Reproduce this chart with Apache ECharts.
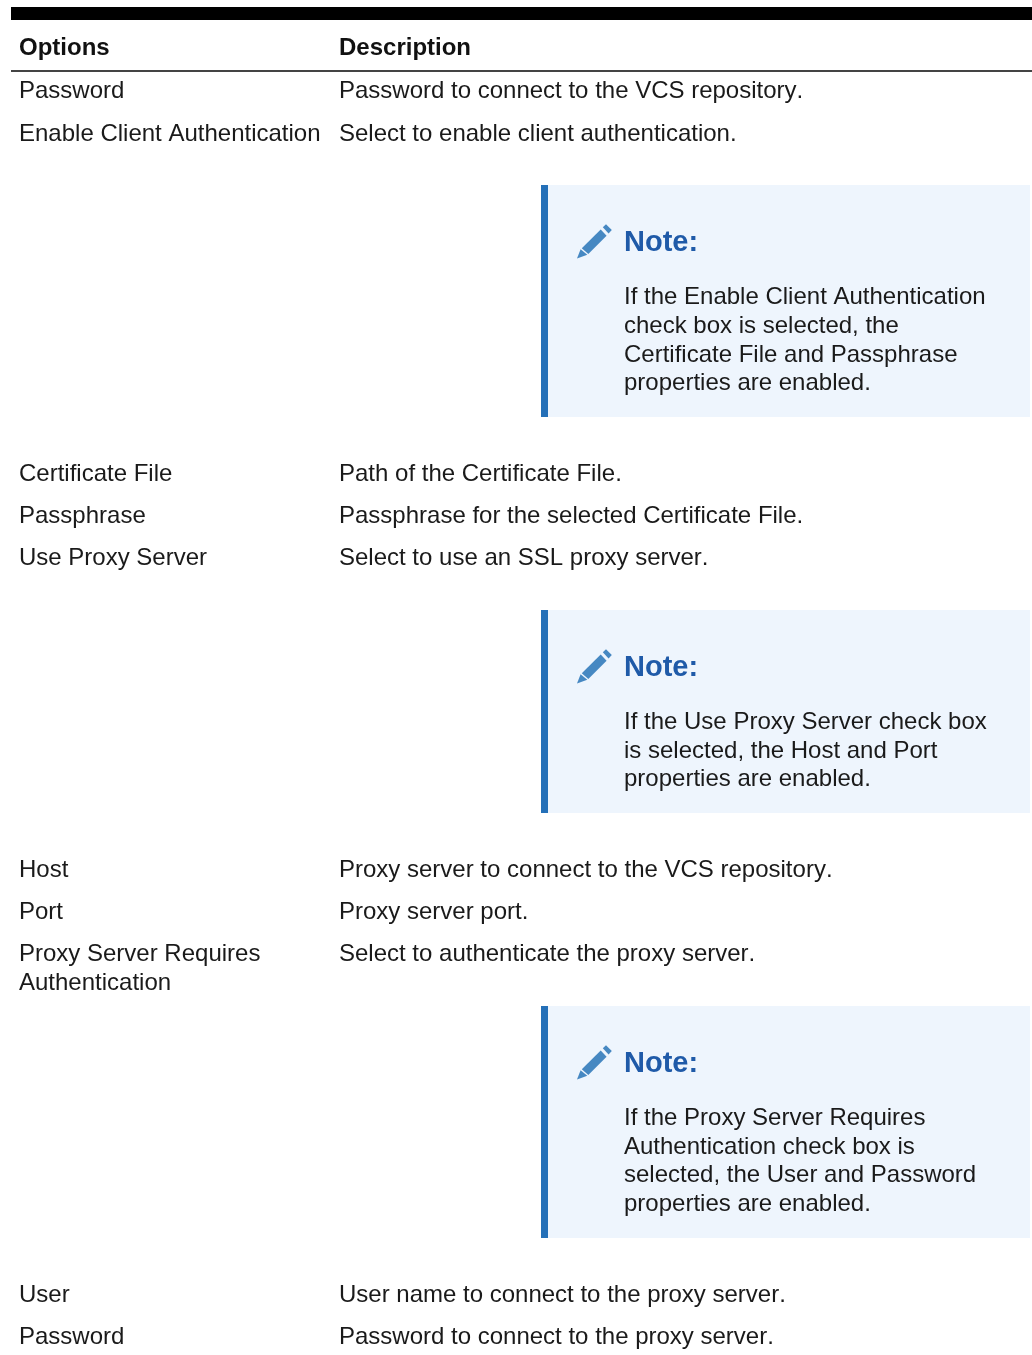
<!DOCTYPE html>
<html><head><meta charset="utf-8">
<style>html,body{margin:0;padding:0;background:#fff}#c{width:1032px;height:1355px}</style>
<script src="https://cdn.jsdelivr.net/npm/echarts@6/dist/echarts.min.js"></script>
</head><body><div id="c"></div>
<script>
const headers = ['Options', 'Description'];
const optionNames = ['Password','Enable Client Authentication','Certificate File','Passphrase','Use Proxy Server','Host','Port','Proxy Server Requires\nAuthentication','User','Password'];
const descriptions = ['Password to connect to the VCS repository.','Select to enable client authentication.','Path of the Certificate File.','Passphrase for the selected Certificate File.','Select to use an SSL proxy server.','Proxy server to connect to the VCS repository.','Proxy server port.','Select to authenticate the proxy server.','User name to connect to the proxy server.','Password to connect to the proxy server.'];
const noteTitle = 'Note:';
const noteTexts = [
 ['If the Enable Client Authentication','check box is selected, the','Certificate File and Passphrase','properties are enabled.'],
 ['If the Use Proxy Server check box','is selected, the Host and Port','properties are enabled.'],
 ['If the Proxy Server Requires','Authentication check box is','selected, the User and Password','properties are enabled.']
];
// layout, kept apart from the content
const rowY = [91,134,474,516,558,870,912,954,1295,1337];
const noteBoxes = [[185,232],[610,203],[1006,232]];
const noteLineOffsets = [[0,29,58,86],[0,29,57],[0,29,57,86]];
const FONT = '"Liberation Sans", Arial, sans-serif';
// the reference text is set without pair kerning
const nativeFill = CanvasRenderingContext2D.prototype.fillText;
CanvasRenderingContext2D.prototype.fillText = function(){ this.fontKerning='none'; return nativeFill.apply(this,arguments); };
const els = [];
const rect = (x,y,w,h,fill)=>els.push({type:'rect',silent:true,shape:{x,y,width:w,height:h},style:{fill}});
const text = (x,y,t,o={})=>els.push({type:'text',silent:true,x,y,style:Object.assign({text:t,fill:'#1a1a1a',font:'24px '+FONT,textAlign:'left',verticalAlign:'middle',lineHeight:29},o)});
rect(11,7,1021,13,'#000');
rect(11,70,1021,2,'#444');
text(19,48,headers[0],{font:'bold 24px '+FONT,fill:'#111'});
text(339,48,headers[1],{font:'bold 24px '+FONT,fill:'#111'});
optionNames.forEach((n,i)=>{
  n.split('\n').forEach((l,j)=>text(19,rowY[i]+j*29,l));
  text(339,rowY[i],descriptions[i]);
});
noteBoxes.forEach(([top,h],i)=>{
  rect(541,top,489,h,'#eef5fd');
  rect(541,top,7,h,'#2470b8');
  const ox=577, oy=top+40;
  const P=(pts)=>els.push({type:'polygon',silent:true,shape:{points:pts.map(p=>[ox+p[0],oy+p[1]])},style:{fill:'#4688c2'}});
  P([[4.8,23.3],[23.7,4.4],[29.6,10.7],[11.3,29]]);
  P([[25.8,2.3],[29,-0.8],[34.8,5],[31.6,8.6]]);
  P([[3.6,24.3],[10.3,29.8],[0,33.6]]);
  text(624,top+58,noteTitle,{font:'bold 29px '+FONT,fill:'#1f5aa8'});
  noteTexts[i].forEach((l,j)=>text(624,top+112+noteLineOffsets[i][j],l));
});
const chart = echarts.init(document.getElementById('c'),null,{renderer:'canvas'});
chart.setOption({animation:false,graphic:{elements:els}});
</script></body></html>
